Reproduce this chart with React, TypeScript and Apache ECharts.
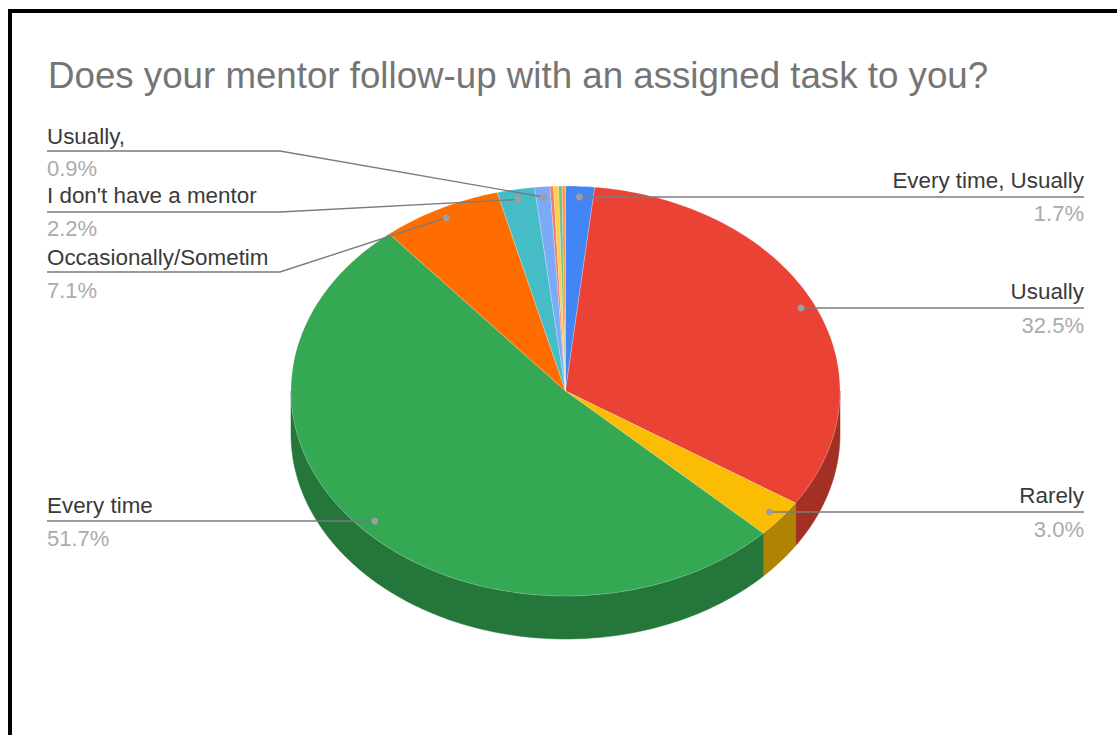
import React, { useEffect, useRef } from "react";
import * as echarts from "echarts";

const titleText = "Does your mentor follow-up with an assigned task to you?";
const categories = [
  "Every time, Usually", "Usually", "Rarely", "Every time", "Occasionally/Sometim",
  "I don't have a mentor", "Usually,", "a", "b", "c", "d",
];
const values = [1.7, 32.5, 3.0, 51.7, 7.1, 2.2, 0.9, 0.2, 0.3, 0.2, 0.2];
const colors = [
  "#4285f4", "#ea4335", "#fbbc04", "#34a853", "#ff6d01", "#46bdc6", "#7baaf7",
  "#f07b72", "#fcd04f", "#71c287", "#ff994d",
];
const sideColors = [
  "#2e5dab", "#a42f25", "#b08403", "#24763a", "#b24c01", "#31848b", "#5677ad",
  "#a85650", "#b09237", "#4f885f", "#b26b36",
];

const CX = 565.5, CY = 391, RX = 274.5, RY = 205, DEPTH = 43;
const total = values.reduce((a, b) => a + b, 0);
const scale = 100 / total;
const startPct = values.map((_, i) => values.slice(0, i).reduce((a, b) => a + b, 0) * scale);
const toAngle = (p: number) => (p / 100) * Math.PI * 2;
const pt = (a: number, f = 1, dy = 0): number[] => [
  CX + RX * f * Math.sin(a),
  CY - RY * f * Math.cos(a) + dy,
];
const arc = (a0: number, a1: number, dy = 0) => {
  const n = Math.max(2, Math.ceil(((a1 - a0) / (Math.PI * 2)) * 360));
  const out: number[][] = [];
  for (let k = 0; k <= n; k++) out.push(pt(a0 + ((a1 - a0) * k) / n, 1, dy));
  return out;
};

// layout of the callouts: side, label y, pct y, line y, elbow x (or none)
const callouts: Record<number, { side: "l" | "r"; ly: number; py: number; line: number; elbow?: number }> = {
  0: { side: "r", ly: 180, py: 213, line: 197 },
  1: { side: "r", ly: 291, py: 325, line: 308 },
  2: { side: "r", ly: 495, py: 529, line: 512 },
  3: { side: "l", ly: 505, py: 538, line: 521 },
  4: { side: "l", ly: 257, py: 290, line: 272, elbow: 280 },
  5: { side: "l", ly: 195, py: 228, line: 212, elbow: 280 },
  6: { side: "l", ly: 136, py: 168, line: 151, elbow: 280 },
};

const seriesData = values.map((v, i) => [v, startPct[i], v * scale, i]);

function App() {
  const ref = useRef<HTMLDivElement>(null);
  useEffect(() => {
    const chart = echarts.init(ref.current!, undefined, { renderer: "svg" });
    chart.setOption({
      animation: false,
      backgroundColor: "#fff",
      title: {
        text: titleText, left: 43, top: 52,
        textStyle: { fontFamily: "Liberation Sans", fontSize: 36.7, fontWeight: "normal", color: "#757575" },
      },
      graphic: [
        { type: "rect", shape: { x: 10, y: 11, width: 1200, height: 800 }, style: { fill: "none", stroke: "#000", lineWidth: 4 }, silent: true },
      ],
      series: [
        {
          type: "custom", coordinateSystem: "none", data: seriesData, z: 2, silent: true,
          renderItem: (_: any, api: any) => {
            const i = api.value(3);
            const a0 = toAngle(api.value(1));
            const a1 = toAngle(api.value(1) + api.value(2));
            const from = Math.max(a0, Math.PI / 2);
            const to = Math.min(a1, Math.PI * 1.5);
            if (to <= from) return { type: "group", children: [] };
            const top = arc(from, to);
            const bottom = arc(from, to, DEPTH).reverse();
            return {
              type: "polygon",
              shape: { points: top.concat(bottom) },
              style: { fill: sideColors[i], stroke: sideColors[i], lineWidth: 0.5 },
            };
          },
        },
        {
          type: "custom", coordinateSystem: "none", data: seriesData, z: 3, silent: true,
          renderItem: (_: any, api: any) => {
            const i = api.value(3);
            const a0 = toAngle(api.value(1));
            const a1 = toAngle(api.value(1) + api.value(2));
            return {
              type: "polygon",
              shape: { points: [[CX, CY], ...arc(a0, a1)] },
              style: { fill: colors[i], stroke: "rgba(255,255,255,0.35)", lineWidth: 0.6 },
            };
          },
        },
        {
          type: "custom", coordinateSystem: "none", data: seriesData, z: 4, silent: true,
          renderItem: (_: any, api: any) => {
            const i = api.value(3);
            const c = callouts[i];
            if (!c) return { type: "group", children: [] };
            const mid = toAngle(api.value(1) + api.value(2) / 2);
            const dot = pt(mid, 0.95);
            const edge = c.side === "r" ? 1084 : 47;
            const points = c.elbow
              ? [[edge, c.line], [c.elbow, c.line], dot]
              : [[edge, c.line], [dot[0], c.line]];
            const textBase = {
              fontFamily: "Liberation Sans",
              align: c.side === "r" ? "right" : "left",
              verticalAlign: "middle",
            };
            return {
              type: "group",
              children: [
                { type: "polyline", shape: { points }, style: { fill: "none", stroke: "#7b7b7b", lineWidth: 1.4 } },
                { type: "circle", shape: { cx: dot[0], cy: c.elbow ? dot[1] : c.line, r: 3.5 }, style: { fill: "#9e9e9e" } },
                { type: "text", style: { ...textBase, fontSize: 22.4, text: categories[i], x: edge, y: c.ly, fill: "#3a3a3a" } },
                { type: "text", style: { ...textBase, fontSize: 22, text: api.value(0).toFixed(1) + "%", x: edge, y: c.py, fill: "#ababab" } },
              ],
            };
          },
        },
      ],
    });
    return () => chart.dispose();
  }, []);
  return <div ref={ref} style={{ width: 1117, height: 735, position: "absolute", left: 0, top: 0 }} />;
}

export default App;
